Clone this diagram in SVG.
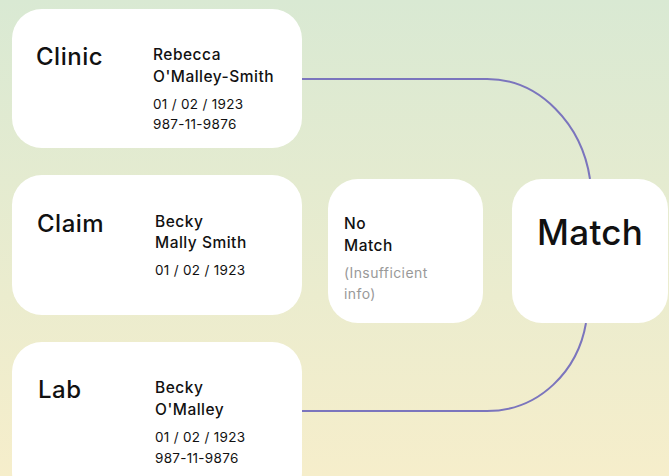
<svg xmlns="http://www.w3.org/2000/svg" width="669" height="476" viewBox="0 0 669 476">
<defs>
<linearGradient id="bg" x1="0" y1="0" x2="0" y2="1">
<stop offset="0" stop-color="#d9e9d3"/>
<stop offset="1" stop-color="#f6eecb"/>
</linearGradient>
<style>
.box{fill:#fff}
.t{font-family:Inter,"Liberation Sans",sans-serif;fill:#111}
.title{font-size:24px;font-weight:500;letter-spacing:0.5px}
.name{font-size:15.5px;font-weight:500;letter-spacing:0.5px}
.info{font-size:13.5px;font-weight:400;letter-spacing:0.3px}
.grey{fill:#999;font-size:14px;letter-spacing:0.4px}
.big{font-size:35px;font-weight:500;letter-spacing:0.3px}
.conn{fill:none;stroke:#7b75bd;stroke-width:2}
</style>
</defs>
<rect width="669" height="476" fill="url(#bg)"/>
<g id="connectors">
<path class="conn" d="M302 79 H487 C540 79 582 125 590 179"/>
<path class="conn" d="M302 411 H487 C540 411 578 370 586 323"/>
</g>
<g id="clinic">
<rect class="box" x="12" y="9" width="290" height="139" rx="30"/>
<text class="t title" x="36" y="65">Clinic</text>
<text class="t name" x="153" y="60">Rebecca</text>
<text class="t name" x="153" y="82">O'Malley-Smith</text>
<text class="t info" x="153" y="109">01 / 02 / 1923</text>
<text class="t info" x="153" y="129">987-11-9876</text>
</g>
<g id="claim">
<rect class="box" x="12" y="175" width="290" height="140" rx="30"/>
<text class="t title" x="37" y="232">Claim</text>
<text class="t name" x="155" y="227">Becky</text>
<text class="t name" x="155" y="248">Mally Smith</text>
<text class="t info" x="155" y="275">01 / 02 / 1923</text>
</g>
<g id="lab">
<rect class="box" x="12" y="342" width="290" height="160" rx="30"/>
<text class="t title" x="38" y="398">Lab</text>
<text class="t name" x="155" y="393">Becky</text>
<text class="t name" x="155" y="415">O'Malley</text>
<text class="t info" x="155" y="442">01 / 02 / 1923</text>
<text class="t info" x="155" y="463">987-11-9876</text>
</g>
<g id="nomatch">
<rect class="box" x="328" y="179" width="155" height="144" rx="30"/>
<text class="t name" x="344" y="229">No</text>
<text class="t name" x="344" y="251">Match</text>
<text class="t grey" x="344" y="278">(Insufficient</text>
<text class="t grey" x="344" y="299">info)</text>
</g>
<g id="match">
<rect class="box" x="512" y="179" width="156" height="144" rx="30"/>
<text class="t big" x="537" y="245">Match</text>
</g>
</svg>
